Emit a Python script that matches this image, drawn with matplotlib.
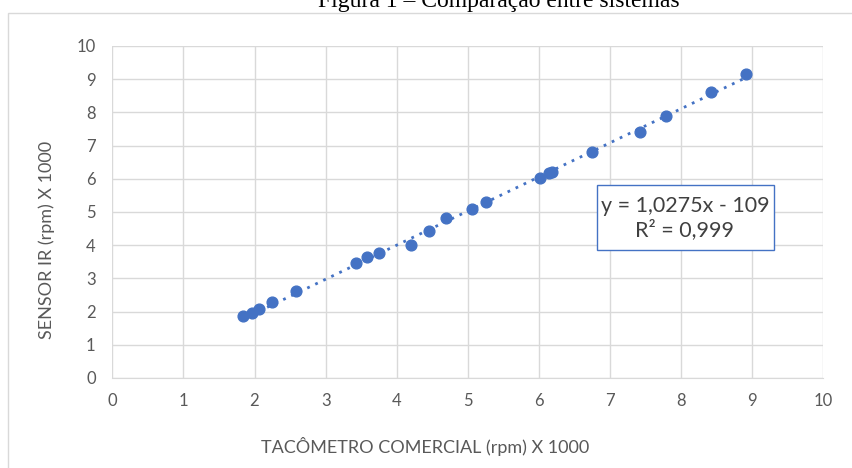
import matplotlib
matplotlib.use("Agg")
import matplotlib.pyplot as plt
from matplotlib.patches import Rectangle

# DADOS (rpm x 1000)
tacometro = [1.84, 1.96, 2.06, 2.25, 2.58, 3.43, 3.58, 3.75, 4.20, 4.45, 4.69,
             5.06, 5.25, 6.01, 6.14, 6.19, 6.75, 7.42, 7.79, 8.42, 8.91]
sensor_ir = [1.87, 1.95, 2.07, 2.28, 2.63, 3.46, 3.65, 3.77, 4.01, 4.42, 4.81,
             5.09, 5.31, 6.03, 6.17, 6.21, 6.82, 7.42, 7.90, 8.62, 9.15]
ticks = list(range(0, 11))
slope = 1.0275
intercept = -0.109
eq_text = "y = 1,0275x - 109\nR² = 0,999"

BLUE = "#4472C4"
GRID = "#D9D9D9"
TXT = "#595959"

plt.rcParams['font.family'] = ['Lato', 'DejaVu Sans']

fig = plt.figure(figsize=(8.53, 4.68), dpi=100)
ax = fig.add_axes([112.3 / 853, 90 / 468, 711 / 853, 332 / 468])

# moldura do gráfico
fig.patches.append(Rectangle((8 / 853, -0.1), 1.0, (468 - 13) / 468 + 0.1,
                             transform=fig.transFigure, fill=False,
                             edgecolor=GRID, linewidth=1))

# titulo (cortado no topo, como no original)
fig.text(499 / 853, (468 - 7) / 468, "Figura 1 – Comparação entre sistemas",
         family="Liberation Serif", fontsize=17, ha="center", va="baseline")

ax.set_xlim(0, 10)
ax.set_ylim(0, 10)
ax.set_xticks(ticks)
ax.set_yticks(ticks)
ax.grid(True, color=GRID, linewidth=1)
ax.set_axisbelow(True)
for s in ["top", "right", "left"]:
    ax.spines[s].set_visible(False)
ax.spines["bottom"].set_color(GRID)
ax.tick_params(length=0, labelsize=12, labelcolor=TXT, pad=11)
ax.tick_params(axis="y", pad=12)

# linha de tendência
x0, x1 = min(tacometro), max(tacometro)
ax.plot([x0, x1], [slope * x0 + intercept, slope * x1 + intercept],
        color=BLUE, linestyle=(0, (1, 2.2)), linewidth=2)
ax.scatter(tacometro, sensor_ir, s=60, color=BLUE, zorder=3)

fig.text(47 / 853, (468 - 240) / 468, "SENSOR IR (rpm) X 1000", rotation=90,
         ha="center", va="center", fontsize=13, color=TXT)
fig.text(425 / 853, (468 - 446) / 468, "TACÔMETRO COMERCIAL (rpm) X 1000",
         ha="center", va="center", fontsize=13, color=TXT)

# caixa da equação
fig.patches.append(Rectangle((597 / 853, (468 - 250) / 468), 177 / 853, 65 / 468,
                             transform=fig.transFigure, facecolor="white",
                             edgecolor=BLUE, linewidth=1, zorder=5))
fig.text(685 / 853, (468 - 218) / 468, eq_text, ha="center", va="center",
         fontsize=15.5, color="#404040", linespacing=1.2, zorder=6)

fig.savefig("out.png", dpi=100)
